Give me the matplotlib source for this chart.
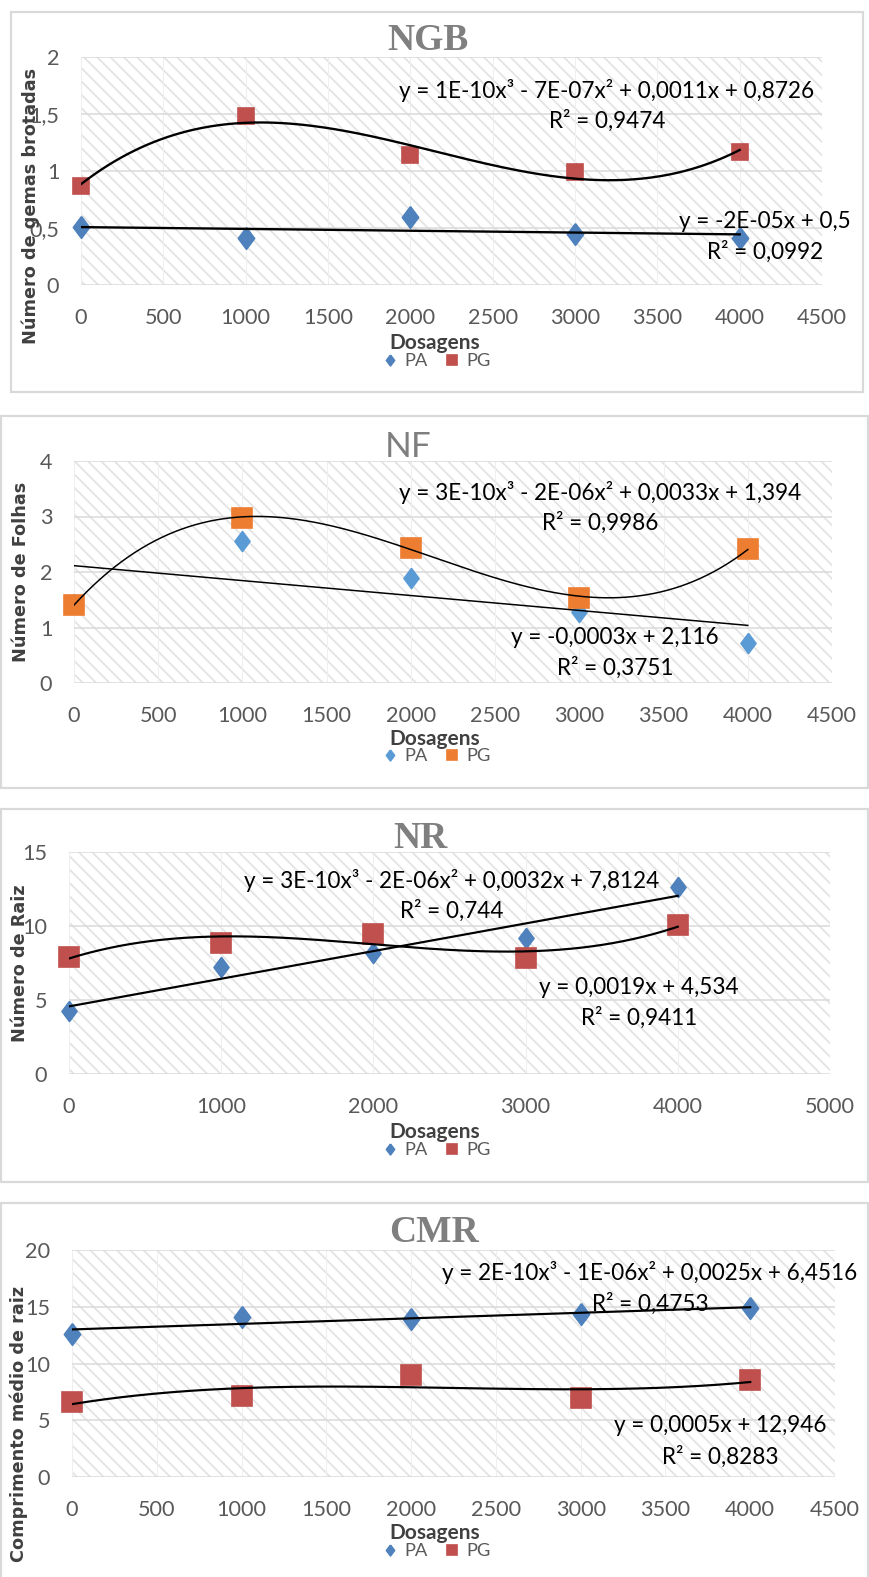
import matplotlib
matplotlib.use('Agg')
import matplotlib.pyplot as plt
from matplotlib.patches import Rectangle
from matplotlib.lines import Line2D
import numpy as np

# figure in pixels
W, H, DPI = 869, 1577, 120

plt.rcParams['hatch.linewidth'] = 1.0
plt.rcParams['font.family'] = ['Lato', 'DejaVu Sans']

# ---- data ----
dose = [0, 1000, 2000, 3000, 4000]

ngb_pa = [0.51, 0.41, 0.60, 0.45, 0.41]
ngb_pg = [0.87, 1.48, 1.14, 0.99, 1.17]

nf_pa = [1.43, 2.55, 1.90, 1.28, 0.72]
nf_pg = [1.41, 2.97, 2.44, 1.54, 2.41]

nr_pa = [4.28, 7.25, 8.16, 9.17, 12.66]
nr_pg = [7.92, 8.83, 9.46, 7.82, 10.07]

cmr_pa = [12.6, 14.1, 13.9, 14.4, 14.9]
cmr_pg = [6.6, 7.1, 9.0, 7.0, 8.55]

titles = ['NGB', 'NF', 'NR', 'CMR']
ylabels = ['Número de gemas brotadas', 'Número de Folhas', 'Número de Raiz',
           'Comprimento médio de raiz']
yticks = [[0, 0.5, 1, 1.5, 2], [0, 1, 2, 3, 4], [0, 5, 10, 15], [0, 5, 10, 15, 20]]
xticks = [list(range(0, 4501, 500)), list(range(0, 4501, 500)),
          list(range(0, 5001, 1000)), list(range(0, 4501, 500))]

eq_cubic = ['y = 1E-10x³ - 7E-07x² + 0,0011x + 0,8726',
            'y = 3E-10x³ - 2E-06x² + 0,0033x + 1,394',
            'y = 3E-10x³ - 2E-06x² + 0,0032x + 7,8124',
            'y = 2E-10x³ - 1E-06x² + 0,0025x + 6,4516']
r2_cubic = ['R² = 0,9474', 'R² = 0,9986', 'R² = 0,744', 'R² = 0,4753']
eq_lin = ['y = -2E-05x + 0,5', 'y = -0,0003x + 2,116',
          'y = 0,0019x + 4,534', 'y = 0,0005x + 12,946']
r2_lin = ['R² = 0,0992', 'R² = 0,3751', 'R² = 0,9411', 'R² = 0,8283']

# ---- layout (pixels) ----
boxes = [(11, 12, 863, 392), (1, 416, 868, 788), (1, 809, 868, 1182), (1, 1203, 868, 1580)]
axrects = [(81, 57, 822, 285), (74, 461, 832, 683), (69, 852, 830, 1074), (72, 1250, 835, 1477)]
title_pos = [(428, 41), (408, 447), (420, 839), (434, 1232)]
ylab_pos = [(31, 206), (21, 572), (20, 963), (19, 1424)]
xlab_pos = [(435, 343), (435, 739), (435, 1132), (435, 1533)]
leg_pos = [(437, 361), (437, 756), (437, 1150), (437, 1551)]
cub_pos = [(607, 90, 121), (600, 492, 523), (452, 880, 911), (650, 1273, 1304)]
lin_pos = [(765, 222, 252), (615, 637, 668), (639, 988, 1018), (720, 1425, 1457)]

pa_cols = ['#4f81bd', '#5b9bd5', '#4f81bd', '#4f81bd']
pg_cols = ['#c0504d', '#ed7d31', '#c0504d', '#c0504d']
sq_ms = [10, 12, 11.5, 12]
dm_ms = [13, 12, 12, 13]
trend_lw = [1.4, 0.9, 1.3, 1.3]

diamond = [(0, 1), (0.75, 0), (0, -1), (-0.75, 0), (0, 1)]


def fx(x):
    return x / W


def fy(y):
    return 1 - y / H


def fmt(v):
    return ('%g' % v).replace('.', ',')


fig = plt.figure(figsize=(W / DPI, H / DPI), dpi=DPI)

series = [(ngb_pa, ngb_pg), (nf_pa, nf_pg), (nr_pa, nr_pg), (cmr_pa, cmr_pg)]

for i, (pa, pg) in enumerate(series):
    bl, bt, br, bb = boxes[i]
    fig.add_artist(Rectangle((fx(bl), fy(bb)), (br - bl) / W, (bb - bt) / H,
                             transform=fig.transFigure, fill=False,
                             edgecolor='#d9d9d9', lw=1.3))

    l, t, r, b = axrects[i]
    ax = fig.add_axes([fx(l), fy(b), (r - l) / W, (b - t) / H])
    ax.add_patch(Rectangle((0, 0), 1, 1, transform=ax.transAxes, facecolor='white',
                           edgecolor='#e2e2e2', lw=0, hatch='\\\\\\', zorder=0))
    ax.set_xlim(xticks[i][0], xticks[i][-1])
    ax.set_ylim(yticks[i][0], yticks[i][-1])
    ax.set_xticks(xticks[i])
    ax.set_xticklabels([fmt(v) for v in xticks[i]])
    ax.set_yticks(yticks[i])
    ax.set_yticklabels([fmt(v) for v in yticks[i]])
    ax.tick_params(length=0, labelsize=13, labelcolor='#595959')
    ax.tick_params(axis='x', pad=14)
    ax.tick_params(axis='y', pad=13)
    for s in ax.spines.values():
        s.set_visible(False)
    ax.set_axisbelow(True)
    ax.grid(axis='y', color='#d9d9d9', lw=0.9)
    ax.grid(axis='x', color='#efefef', lw=0.6)

    ax.plot(dose, pa, ls='none', marker=diamond, ms=dm_ms[i], color=pa_cols[i],
            mec=pa_cols[i], zorder=3, clip_on=False)
    ax.plot(dose, pg, ls='none', marker='s', ms=sq_ms[i], color=pg_cols[i],
            mec=pg_cols[i], zorder=3, clip_on=False)

    xs = np.linspace(dose[0], dose[-1], 300)
    ax.plot(xs, np.polyval(np.polyfit(dose, pg, 3), xs), color='black',
            lw=trend_lw[i], zorder=4)
    ax.plot(xs, np.polyval(np.polyfit(dose, pa, 1), xs), color='black',
            lw=trend_lw[i], zorder=4)

    # title
    tx, ty = title_pos[i]
    if titles[i] == 'NF':
        fig.text(fx(tx), fy(ty), titles[i], fontsize=21, color='#7f7f7f',
                 ha='center', va='center', family='Lato')
    else:
        fig.text(fx(tx), fy(ty), titles[i], fontsize=22.5, color='#7f7f7f',
                 ha='center', va='center', family='Liberation Serif',
                 fontweight='bold')

    yx, yy = ylab_pos[i]
    fig.text(fx(yx), fy(yy), ylabels[i], rotation=90, fontsize=10.6,
             fontweight='bold', color='#404040', ha='center', va='center',
             family='DejaVu Sans')

    dx, dy = xlab_pos[i]
    fig.text(fx(dx), fy(dy), 'Dosagens', fontsize=12.5, fontweight='bold',
             color='#404040', ha='center', va='center')

    cx, cy1, cy2 = cub_pos[i]
    fig.text(fx(cx), fy(cy1), eq_cubic[i], fontsize=13.5, ha='center', va='center')
    fig.text(fx(cx), fy(cy2), r2_cubic[i], fontsize=13.5, ha='center', va='center')
    lx, ly1, ly2 = lin_pos[i]
    fig.text(fx(lx), fy(ly1), eq_lin[i], fontsize=13.5, ha='center', va='center')
    fig.text(fx(lx), fy(ly2), r2_lin[i], fontsize=13.5, ha='center', va='center')

    handles = [Line2D([], [], ls='none', marker=diamond, ms=6.5, color=pa_cols[i]),
               Line2D([], [], ls='none', marker='s', ms=6, color=pg_cols[i])]
    gx, gy = leg_pos[i]
    fig.legend(handles, ['PA', 'PG'], loc='center', bbox_to_anchor=(fx(gx), fy(gy)),
               ncol=2, frameon=False, fontsize=11, labelcolor='#595959',
               handlelength=0.8, handletextpad=0.4, columnspacing=0.9,
               borderpad=0, borderaxespad=0)

fig.savefig('out.png', dpi=DPI)
